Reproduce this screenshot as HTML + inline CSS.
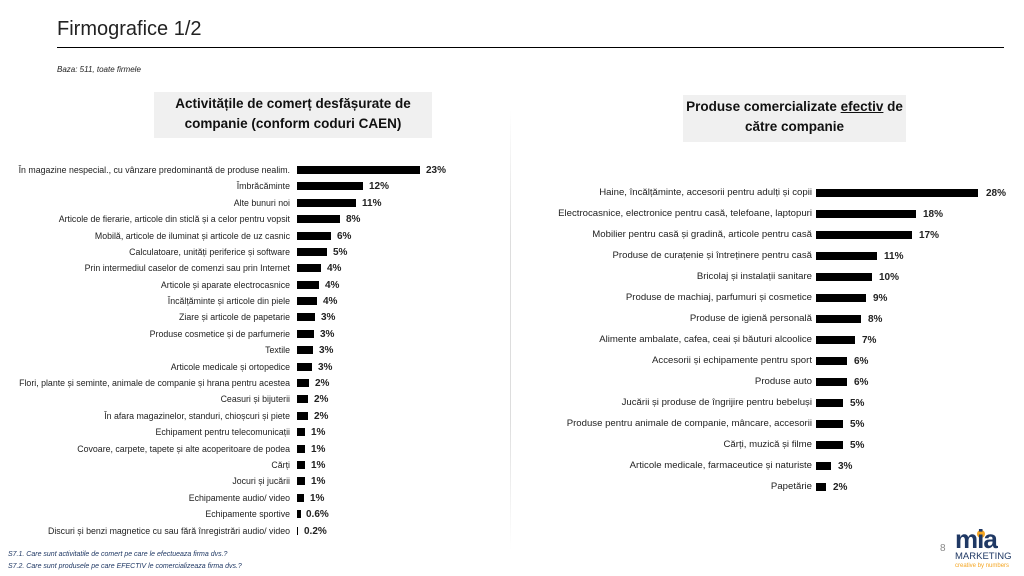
<!DOCTYPE html>
<html><head><meta charset="utf-8"><style>
body{margin:0;width:1024px;height:576px;background:#fff;position:relative;overflow:hidden;font-family:"Liberation Sans",sans-serif;color:#222}
.a{position:absolute}
.l{position:absolute;font-size:8.8px;text-align:right;white-space:nowrap;line-height:10px}
.r .l{font-size:9.6px}
.b{position:absolute;background:#000;height:8px}
.v{position:absolute;font-size:10px;font-weight:bold;line-height:10px;white-space:nowrap;margin-top:1px}
.box{position:absolute;background:#f0f0f0;font-weight:bold;font-size:13.5px;text-align:center;line-height:20px;color:#111}
</style></head><body>
<div class="a" style="left:57px;top:18px;font-size:20px;">Firmografice 1/2</div>
<div class="a" style="left:57px;top:47px;width:947px;height:1px;background:#000"></div>
<div class="a" style="left:57px;top:65px;font-size:8px;font-style:italic">Baza: 511, toate firmele</div>
<div class="box" style="left:154px;top:92px;width:278px;height:44px;padding-top:2px">Activitățile de comerț desfășurate de<br>companie (conform coduri CAEN)</div>
<div class="box" style="left:683px;top:95px;width:223px;height:45px;padding-top:2px">Produse comercializate <u>efectiv</u> de<br>către companie</div>
<div class="a" style="left:510px;top:110px;width:1px;height:440px;background:linear-gradient(#fff,#ddd 30%,#ddd 70%,#fff)"></div>

<!-- left chart -->
<div class="l" style="right:734px;top:165px">În magazine nespecial., cu vânzare predominantă de produse nealim.</div><div class="b" style="left:297px;top:166px;width:123px"></div><div class="v" style="left:426px;top:165px">23%</div>
<div class="l" style="right:734px;top:181px">Îmbrăcăminte</div><div class="b" style="left:297px;top:182px;width:66px"></div><div class="v" style="left:369px;top:181px">12%</div>
<div class="l" style="right:734px;top:198px">Alte bunuri noi</div><div class="b" style="left:297px;top:199px;width:59px"></div><div class="v" style="left:362px;top:198px">11%</div>
<div class="l" style="right:734px;top:214px">Articole de fierarie, articole din sticlă și a celor pentru vopsit</div><div class="b" style="left:297px;top:215px;width:43px"></div><div class="v" style="left:346px;top:214px">8%</div>
<div class="l" style="right:734px;top:231px">Mobilă, articole de iluminat și articole de uz casnic</div><div class="b" style="left:297px;top:232px;width:34px"></div><div class="v" style="left:337px;top:231px">6%</div>
<div class="l" style="right:734px;top:247px">Calculatoare, unități periferice și software</div><div class="b" style="left:297px;top:248px;width:30px"></div><div class="v" style="left:333px;top:247px">5%</div>
<div class="l" style="right:734px;top:263px">Prin intermediul caselor de comenzi sau prin Internet</div><div class="b" style="left:297px;top:264px;width:24px"></div><div class="v" style="left:327px;top:263px">4%</div>
<div class="l" style="right:734px;top:280px">Articole și aparate electrocasnice</div><div class="b" style="left:297px;top:281px;width:22px"></div><div class="v" style="left:325px;top:280px">4%</div>
<div class="l" style="right:734px;top:296px">Încălțăminte și articole din piele</div><div class="b" style="left:297px;top:297px;width:20px"></div><div class="v" style="left:323px;top:296px">4%</div>
<div class="l" style="right:734px;top:312px">Ziare și articole de papetarie</div><div class="b" style="left:297px;top:313px;width:18px"></div><div class="v" style="left:321px;top:312px">3%</div>
<div class="l" style="right:734px;top:329px">Produse cosmetice și de parfumerie</div><div class="b" style="left:297px;top:330px;width:17px"></div><div class="v" style="left:320px;top:329px">3%</div>
<div class="l" style="right:734px;top:345px">Textile</div><div class="b" style="left:297px;top:346px;width:16px"></div><div class="v" style="left:319px;top:345px">3%</div>
<div class="l" style="right:734px;top:362px">Articole medicale și ortopedice</div><div class="b" style="left:297px;top:363px;width:15px"></div><div class="v" style="left:318px;top:362px">3%</div>
<div class="l" style="right:734px;top:378px">Flori, plante și seminte, animale de companie și hrana pentru acestea</div><div class="b" style="left:297px;top:379px;width:12px"></div><div class="v" style="left:315px;top:378px">2%</div>
<div class="l" style="right:734px;top:394px">Ceasuri și bijuterii</div><div class="b" style="left:297px;top:395px;width:11px"></div><div class="v" style="left:314px;top:394px">2%</div>
<div class="l" style="right:734px;top:411px">În afara magazinelor, standuri, chioșcuri și piete</div><div class="b" style="left:297px;top:412px;width:11px"></div><div class="v" style="left:314px;top:411px">2%</div>
<div class="l" style="right:734px;top:427px">Echipament pentru telecomunicații</div><div class="b" style="left:297px;top:428px;width:8px"></div><div class="v" style="left:311px;top:427px">1%</div>
<div class="l" style="right:734px;top:444px">Covoare, carpete, tapete și alte acoperitoare de podea</div><div class="b" style="left:297px;top:445px;width:8px"></div><div class="v" style="left:311px;top:444px">1%</div>
<div class="l" style="right:734px;top:460px">Cărți</div><div class="b" style="left:297px;top:461px;width:8px"></div><div class="v" style="left:311px;top:460px">1%</div>
<div class="l" style="right:734px;top:476px">Jocuri și jucării</div><div class="b" style="left:297px;top:477px;width:8px"></div><div class="v" style="left:311px;top:476px">1%</div>
<div class="l" style="right:734px;top:493px">Echipamente audio/ video</div><div class="b" style="left:297px;top:494px;width:7px"></div><div class="v" style="left:310px;top:493px">1%</div>
<div class="l" style="right:734px;top:509px">Echipamente sportive</div><div class="b" style="left:297px;top:510px;width:4px"></div><div class="v" style="left:306px;top:509px">0.6%</div>
<div class="l" style="right:734px;top:526px">Discuri și benzi magnetice cu sau fără înregistrări audio/ video</div><div class="b" style="left:297px;top:527px;width:1px"></div><div class="v" style="left:304px;top:526px">0.2%</div>

<!-- right chart -->
<div class="r">
<div class="l" style="right:212px;top:188px">Haine, încălțăminte, accesorii pentru adulți și copii</div><div class="b" style="left:816px;top:189px;width:162px"></div><div class="v" style="left:986px;top:188px">28%</div>
<div class="l" style="right:212px;top:209px">Electrocasnice, electronice pentru casă, telefoane, laptopuri</div><div class="b" style="left:816px;top:210px;width:100px"></div><div class="v" style="left:923px;top:209px">18%</div>
<div class="l" style="right:212px;top:230px">Mobilier pentru casă și gradină, articole pentru casă</div><div class="b" style="left:816px;top:231px;width:96px"></div><div class="v" style="left:919px;top:230px">17%</div>
<div class="l" style="right:212px;top:251px">Produse de curațenie și întreținere pentru casă</div><div class="b" style="left:816px;top:252px;width:61px"></div><div class="v" style="left:884px;top:251px">11%</div>
<div class="l" style="right:212px;top:272px">Bricolaj și instalații sanitare</div><div class="b" style="left:816px;top:273px;width:56px"></div><div class="v" style="left:879px;top:272px">10%</div>
<div class="l" style="right:212px;top:293px">Produse de machiaj, parfumuri și cosmetice</div><div class="b" style="left:816px;top:294px;width:50px"></div><div class="v" style="left:873px;top:293px">9%</div>
<div class="l" style="right:212px;top:314px">Produse de igienă personală</div><div class="b" style="left:816px;top:315px;width:45px"></div><div class="v" style="left:868px;top:314px">8%</div>
<div class="l" style="right:212px;top:335px">Alimente ambalate, cafea, ceai și băuturi alcoolice</div><div class="b" style="left:816px;top:336px;width:39px"></div><div class="v" style="left:862px;top:335px">7%</div>
<div class="l" style="right:212px;top:356px">Accesorii și echipamente pentru sport</div><div class="b" style="left:816px;top:357px;width:31px"></div><div class="v" style="left:854px;top:356px">6%</div>
<div class="l" style="right:212px;top:377px">Produse auto</div><div class="b" style="left:816px;top:378px;width:31px"></div><div class="v" style="left:854px;top:377px">6%</div>
<div class="l" style="right:212px;top:398px">Jucării și produse de îngrijire pentru bebeluși</div><div class="b" style="left:816px;top:399px;width:27px"></div><div class="v" style="left:850px;top:398px">5%</div>
<div class="l" style="right:212px;top:419px">Produse pentru animale de companie, mâncare, accesorii</div><div class="b" style="left:816px;top:420px;width:27px"></div><div class="v" style="left:850px;top:419px">5%</div>
<div class="l" style="right:212px;top:440px">Cărți, muzică și filme</div><div class="b" style="left:816px;top:441px;width:27px"></div><div class="v" style="left:850px;top:440px">5%</div>
<div class="l" style="right:212px;top:461px">Articole medicale, farmaceutice și naturiste</div><div class="b" style="left:816px;top:462px;width:15px"></div><div class="v" style="left:838px;top:461px">3%</div>
<div class="l" style="right:212px;top:482px">Papetărie</div><div class="b" style="left:816px;top:483px;width:10px"></div><div class="v" style="left:833px;top:482px">2%</div>
</div>

<div class="a" style="left:8px;top:551px;font-size:7px;font-style:italic;color:#1f3864">S7.1. Care sunt activitatile de comert pe care le efectueaza firma dvs.?</div>
<div class="a" style="left:8px;top:563px;font-size:7px;font-style:italic;color:#1f3864">S7.2. Care sunt produsele pe care EFECTIV le comercializeaza firma dvs.?</div>
<div class="a" style="left:940px;top:543px;font-size:10px;color:#888">8</div>
<div class="a" style="left:977px;top:530px;width:8px;height:8px;border-radius:50%;background:#f5a623"></div>
<div class="a" style="left:955px;top:526px;font-size:26px;font-weight:bold;color:#1f3864;letter-spacing:-1px;line-height:26px">mia</div>
<div class="a" style="left:955px;top:552px;font-size:9.5px;color:#1f3864;line-height:10px">MARKETING</div>
<div class="a" style="left:955px;top:563px;font-size:6px;color:#f5a623;line-height:7px">creative by numbers</div>
</body></html>
